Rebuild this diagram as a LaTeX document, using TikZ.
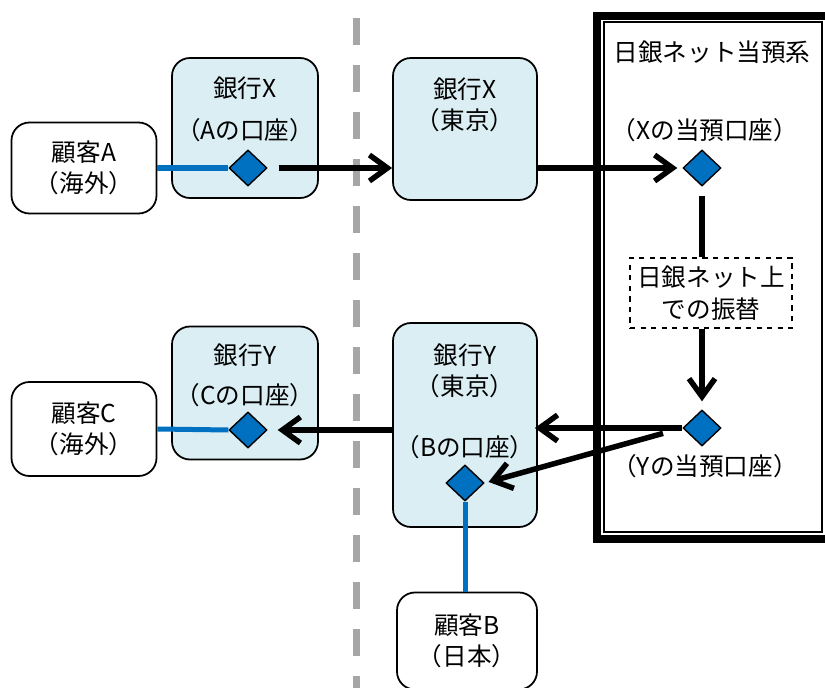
\documentclass[tikz,border=0pt]{standalone}
\usepackage{fontspec}
\setmainfont{Noto Sans CJK JP}
\usetikzlibrary{arrows.meta, positioning, shapes.geometric}

\definecolor{bankfill}{HTML}{DAEEF3}
\definecolor{acctblue}{HTML}{0070C0}
\definecolor{sepgray}{HTML}{A6A6A6}

\tikzset{
  custbox/.style={draw, line width=1pt, fill=white, rounded corners=3.6mm, align=center},
  bankbox/.style={draw, line width=1pt, fill=bankfill, rounded corners=3.6mm},
  acct/.style={diamond, draw, line width=0.8pt, fill=acctblue, inner sep=0pt,
    minimum width=7.6mm, minimum height=7.2mm},
  flow/.style={line width=1.1mm, -{Straight Barb[length=3.6mm, width=5.2mm]}},
  link/.style={acctblue, line width=1mm},
  txt/.style={align=center}
}

\begin{document}
\begin{tikzpicture}[x=0.2mm, y=-0.2mm, font=\fontsize{14}{18}\selectfont]
\useasboundingbox (0,0) rectangle (825,688);

\draw[sepgray, line width=1.4mm, dash pattern=on 5.4mm off 4mm] (356,18) -- (356,700);

% BOJ-NET box
\draw[line width=1.6mm] (597,16) rectangle (835,539);
\draw[line width=0.5mm] (604,22) rectangle (822,532);
\node[txt] (bojtitle) at (712,52) {日銀ネット当預系};
\node[txt] (xacctlbl) at (705,130) {（Xの当預口座）};
\node[txt] (yacctlbl) at (705,466) {（Yの当預口座）};
\node[draw, dashed, line width=0.6pt, fill=white, align=center,
  minimum width=32.4mm, minimum height=14mm] (xfer) at (711,293) {日銀ネット上\\での振替};
\node[acct] (dX) at (702,168) {};
\node[acct] (dY) at (702,428) {};

% upper row
\node[custbox, minimum width=29mm, minimum height=18.2mm] (custA) at (84,168) {顧客A\\（海外）};
\node[bankbox, minimum width=29.2mm, minimum height=28mm] (bankXA) at (245,128) {};
\node[txt] (bankXAname) at (245,88) {銀行X};
\node[txt] (bankXAacct) at (245,130) {（Aの口座）};
\node[acct] (dA) at (248,168) {};
\node[bankbox, minimum width=28.8mm, minimum height=28.4mm] (bankXT) at (465,129) {};
\node[txt] (bankXTname) at (465,105) {銀行X\\（東京）};

% lower row
\node[custbox, minimum width=29mm, minimum height=18.8mm] (custC) at (84,429) {顧客C\\（海外）};
\node[bankbox, minimum width=29.2mm, minimum height=26.6mm] (bankYC) at (245,393) {};
\node[txt] (bankYCname) at (245,355) {銀行Y};
\node[txt] (bankYCacct) at (245,395) {（Cの口座）};
\node[acct] (dC) at (248,430) {};
\node[bankbox, minimum width=28.8mm, minimum height=40.8mm] (bankYT) at (465,425) {};
\node[txt] (bankYTname) at (465,371) {銀行Y\\（東京）};
\node[txt] (bankYTacct) at (465,447) {（Bの口座）};
\node[acct] (dB) at (465,483) {};
\node[custbox, minimum width=28mm, minimum height=19.4mm] (custB) at (467,641) {顧客B\\（日本）};

% account links
\draw[link] (custA.east) -- (dA.west);
\draw[link] (custC.east) -- (dC.west);
\draw[link] (dB.south) -- (custB.north -| dB);

% funds flow
\draw[flow, shorten <=2.2mm] (dA.east) -- (dA.east -| bankXT.west);
\draw[flow, shorten >=1mm] (bankXT.east |- dX) -- (dX.west);
\draw[line width=1.1mm, shorten <=1.8mm] (dX.south) -- (xfer.north -| dX);
\draw[flow, shorten >=1.6mm] (xfer.south -| dX) -- (dY.north);
\draw[flow, shorten >=-0.6mm] (dY.west) -- (dY.west -| bankYT.east);
\draw[flow, shorten <=4mm, shorten >=0.8mm] (dY.west) -- (dB.east);
\draw[flow, shorten >=2mm] (bankYT.west |- dC) -- (dC.east);
\end{tikzpicture}
\end{document}
